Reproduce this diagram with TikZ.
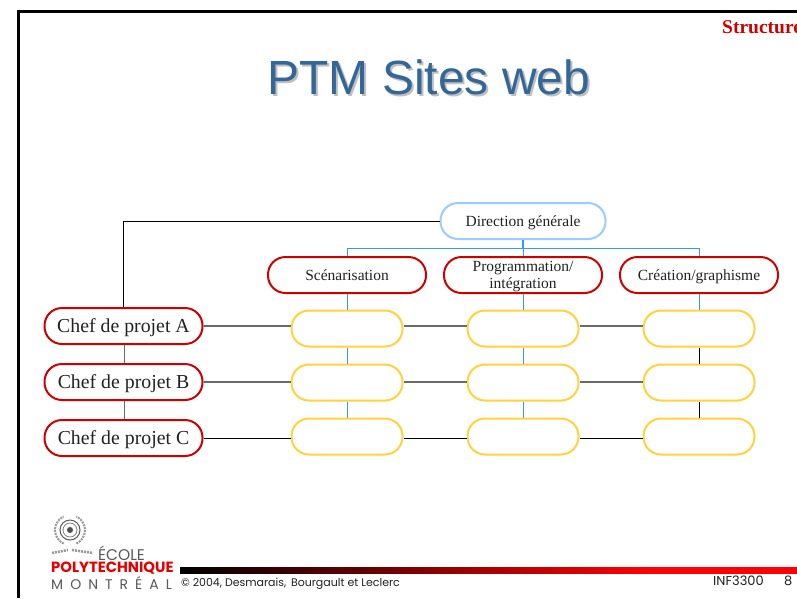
\documentclass[tikz,border=0pt]{standalone}
\usepackage{fontspec}
\setmainfont{Liberation Serif}
\newfontfamily\arialfont{Liberation Sans}
\newfontfamily\gothicfont{Poppins}
\definecolor{titleblue}{HTML}{336699}
\definecolor{linkblue}{HTML}{3399FF}
\definecolor{lightblue}{HTML}{99CCFF}
\definecolor{darkred}{HTML}{CC0000}
\definecolor{softyellow}{HTML}{FFD23F}
\definecolor{linkgrey}{HTML}{6A6A6A}
\definecolor{inkgrey}{HTML}{222222}
\pgfdeclarehorizontalshading{barfade}{100bp}{color(0bp)=(black); color(25bp)=(black); color(63bp)=(red); color(100bp)=(red)}
\tikzset{
    pill/.style={shape=rectangle,rounded corners=17.5pt,line width=2pt,fill=white,text=inkgrey,inner sep=0pt,minimum height=36pt,align=center,text depth=0pt},
    topbox/.style={pill,draw=lightblue,minimum width=165pt,font=\fontsize{15.5}{17}\selectfont},
    teambox/.style={pill,draw=darkred,minimum width=158pt,font=\fontsize{15.5}{17}\selectfont},
    chefbox/.style={pill,draw=darkred,minimum width=158pt,font=\fontsize{19.8}{20}\selectfont},
    taskbox/.style={pill,draw=softyellow,minimum width=111pt},
    bluelink/.style={draw=linkblue,line width=1pt},
    greylink/.style={draw=linkgrey,line width=1.4pt},
    blacklink/.style={draw=black,line width=1pt},
    footertext/.style={text=inkgrey,inner sep=0pt,font=\gothicfont\fontsize{11}{12}\selectfont},
    laurel/.style={draw=black!40,dash pattern=on 2pt off 1pt}
}
\begin{document}
\begin{tikzpicture}[x=1pt,y=-1pt]
    \useasboundingbox (0,0) rectangle (797,598);
    \fill[white] (0,0) rectangle (797,598);
    % slide frame
    \draw[black,line width=3pt] (797,11) -- (18,11) -- (18,598);
    \shade[shading=barfade] (180,567) rectangle (797,573.5);
    % heading
    \node[text=darkred,anchor=west,inner sep=0pt,font=\bfseries\fontsize{19.5}{20}\selectfont] (section) at (722,27) {Structure};
    \node[text=black!25,inner sep=0pt,font=\arialfont\fontsize{48}{50}\selectfont] (titleshadow) at (431,79) {PTM Sites web};
    \node[text=titleblue,inner sep=0pt,font=\arialfont\fontsize{48}{50}\selectfont] (title) at (429,77) {PTM Sites web};
    % boxes
    \node[topbox] (dir) at (523,221) {Direction générale};
    \node[teambox] (scen) at (347,275) {Scénarisation};
    \node[teambox] (prog) at (523,275) {Programmation/\\intégration};
    \node[teambox] (crea) at (699,275) {Création/graphisme};
    \node[chefbox] (chefA) at (123.5,326) {Chef de projet A};
    \node[chefbox] (chefB) at (123.5,382) {Chef de projet B};
    \node[chefbox] (chefC) at (123.5,438) {Chef de projet C};
    \node[taskbox] (A1) at (347,328.5) {};
    \node[taskbox] (A2) at (523,328.5) {};
    \node[taskbox] (A3) at (699,328.5) {};
    \node[taskbox] (B1) at (347,382.5) {};
    \node[taskbox] (B2) at (523,382.5) {};
    \node[taskbox] (B3) at (699,382.5) {};
    \node[taskbox] (C1) at (347,436.5) {};
    \node[taskbox] (C2) at (523,436.5) {};
    \node[taskbox] (C3) at (699,436.5) {};
    % links
    \coordinate (hub) at (523,248);
    \coordinate (hubL) at (347,248);
    \coordinate (hubR) at (699,248);
    \coordinate (corner) at (123.5,221);
    \draw[bluelink,line width=1.6pt] (dir) -- (hub);
    \draw[bluelink] (scen) -- (hubL) -- (hubR) -- (crea);
    \draw[bluelink] (hub) -- (prog);
    \draw[bluelink] (scen) -- (A1);
    \draw[bluelink] (prog) -- (A2);
    \draw[bluelink] (crea) -- (A3);
    \draw[bluelink] (A1) -- (B1);
    \draw[bluelink] (B1) -- (C1);
    \draw[bluelink] (A2) -- (B2);
    \draw[bluelink] (B2) -- (C2);
    \draw[blacklink] (A3) -- (B3);
    \draw[blacklink] (B3) -- (C3);
    \draw[blacklink] (dir) -- (corner) -- (chefA);
    \draw[greylink] ([xshift=1pt]chefA.south) -- ([xshift=1pt]chefB.north);
    \draw[greylink] ([xshift=1pt]chefB.south) -- ([xshift=1pt]chefC.north);
    \draw[greylink] (chefA) -- (chefA -| A1.west);
    \draw[greylink] (A1.east |- chefA) -- (A2.west |- chefA);
    \draw[greylink] (A2.east |- chefA) -- (A3.west |- chefA);
    \draw[greylink] (chefB) -- (chefB -| B1.west);
    \draw[greylink] (B1.east |- chefB) -- (B2.west |- chefB);
    \draw[greylink] (B2.east |- chefB) -- (B3.west |- chefB);
    \draw[blacklink] (chefC) -- (chefC -| C1.west);
    \draw[blacklink] (C1.east |- chefC) -- (C2.west |- chefC);
    \draw[blacklink] (C2.east |- chefC) -- (C3.west |- chefC);
    % logo
    \coordinate (seal) at (70,530);
    \draw[black!65,line width=1pt] (seal) circle (10);
    \draw[black!50,line width=.8pt] (seal) circle (7);
    \fill[black!70] (seal) circle (3);
    \draw[laurel,line width=2pt] (seal) ++(115:15) arc[start angle=115,end angle=245,radius=15];
    \draw[laurel,line width=2pt] (seal) ++(65:15) arc[start angle=65,end angle=-65,radius=15];
    \draw[laurel,line width=2.5pt] (52,553) -- (68,550);
    \draw[laurel,line width=2.5pt] (72,550) -- (93,553);
    \node[text=black!65,inner sep=0pt,anchor=west,font=\gothicfont\fontsize{15.5}{16}\selectfont] (ecole) at (98,553) {ÉCOLE};
    \node[text=red!90!black,inner sep=0pt,anchor=west,font=\gothicfont\bfseries\fontsize{14.8}{15}\selectfont] (poly) at (51,568) {POLYTECHNIQUE};
    \node[text=black!65,inner sep=0pt,anchor=west,font=\gothicfont\fontsize{14}{15}\selectfont] (mtl) at (51,583) {M\hspace{7pt}O\hspace{7pt}N\hspace{7pt}T\hspace{7pt}R\hspace{7pt}É\hspace{7pt}A\hspace{7pt}L};
    % footer
    \node[footertext,anchor=west] (copy) at (181,584) {© 2004, Desmarais,\, Bourgault et Leclerc};
    \node[footertext,anchor=west,font=\gothicfont\fontsize{13}{14}\selectfont] (course) at (713,581) {INF3300};
    \node[footertext,anchor=west,font=\gothicfont\fontsize{13}{14}\selectfont] (page) at (784,581) {8};
\end{tikzpicture}
\end{document}
